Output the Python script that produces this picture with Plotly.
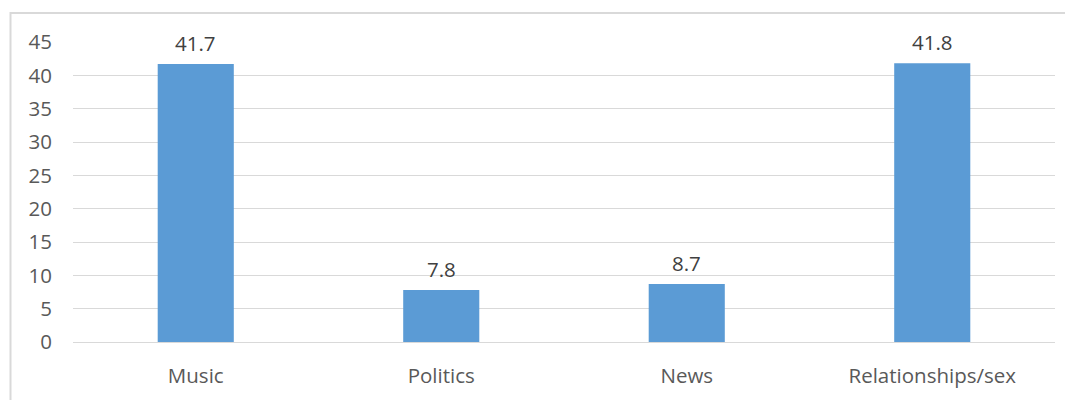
import plotly.graph_objects as go

categories = ["Music", "Politics", "News", "Relationships/sex"]
values = [41.7, 7.8, 8.7, 41.8]
y_ticks = [0, 5, 10, 15, 20, 25, 30, 35, 40, 45]

W, H = 1073, 400
OFF = 8  # page body margin offset
L, R, T, B = 73 - OFF, 18 + OFF, 42 - OFF, 58 + OFF
pw = W - L - R
ph = H - T - B

FONT = "Open Sans, Noto Sans, sans-serif"
FS = 20.5

fig = go.Figure(go.Bar(
    x=categories, y=values, marker=dict(color="#5B9BD5", line=dict(width=0)),
    hoverinfo="skip",
))

for c, v in zip(categories, values):
    fig.add_annotation(x=c, y=v, text=f"{v}", showarrow=False, yanchor="bottom",
                       yshift=5, font=dict(family=FONT, size=FS, color="#404040"))

# outer chart frame
fig.add_shape(type="rect", xref="paper", yref="paper",
              x0=(10.5 - OFF - L) / pw, x1=(W + 20 - L) / pw,
              y0=-(H + 20 - T - ph) / ph, y1=(ph + T - (13 - OFF)) / ph,
              line=dict(color="#d9d9d9", width=2), fillcolor="rgba(0,0,0,0)", layer="below")

fig.update_layout(
    width=W, height=H,
    margin=dict(l=L, r=R, t=T, b=B),
    paper_bgcolor="white", plot_bgcolor="white",
    bargap=0.69,
    showlegend=False,
    font=dict(family=FONT, size=FS, color="#595959"),
    xaxis=dict(showgrid=False, showline=False, zeroline=False, ticks="",
               ticklabelstandoff=19, tickfont=dict(family=FONT, size=FS, color="#595959")),
    yaxis=dict(range=[0, 45], tickvals=y_ticks, showgrid=True, gridcolor="#d9d9d9", gridwidth=1,
               zeroline=True, zerolinecolor="#d9d9d9", zerolinewidth=1, showline=False, ticks="",
               ticklabelstandoff=20, tickfont=dict(family=FONT, size=FS, color="#595959")),
)

fig.write_html("out.html")
